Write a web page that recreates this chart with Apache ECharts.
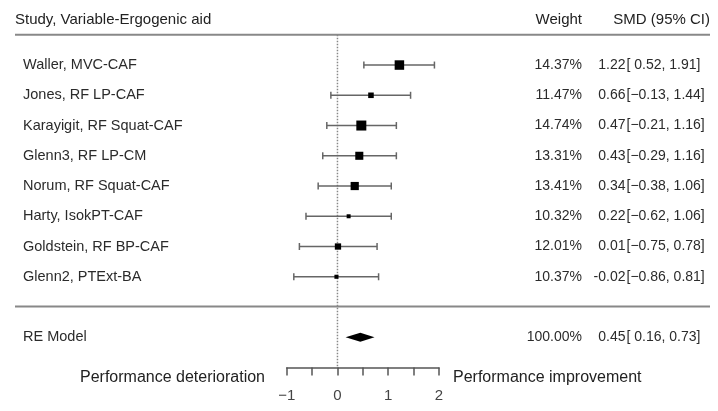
<!DOCTYPE html>
<html>
<head>
<meta charset="utf-8">
<script src="https://cdn.jsdelivr.net/npm/echarts@6/dist/echarts.min.js"></script>
<style>
  html, body { margin: 0; padding: 0; background: #fff; }
  #chart { width: 718px; height: 411px; }
</style>
</head>
<body>
<div id="chart"></div>
<script>
// study rows, top to bottom
const studies = ['Waller, MVC-CAF', 'Jones, RF LP-CAF', 'Karayigit, RF Squat-CAF', 'Glenn3, RF LP-CM',
  'Norum, RF Squat-CAF', 'Harty, IsokPT-CAF', 'Goldstein, RF BP-CAF', 'Glenn2, PTExt-BA'];
const smd = [1.22, 0.66, 0.47, 0.43, 0.34, 0.22, 0.01, -0.02];
const ciLower = [0.52, -0.13, -0.21, -0.29, -0.38, -0.62, -0.75, -0.86];
const ciUpper = [1.91, 1.44, 1.16, 1.16, 1.06, 1.06, 0.78, 0.81];
const weights = [14.37, 11.47, 14.74, 13.31, 13.41, 10.32, 12.01, 10.37];

// random effects summary
const reLabel = 'RE Model';
const reSmd = 0.45;
const reLower = 0.16;
const reUpper = 0.73;
const reWeight = 100.00;

const xMin = -1, xMax = 2;

const FONT = '"Liberation Sans", Arial, sans-serif';
const TEXT = '#2b2b2b';

function fmtLo(v) {
  return v < 0 ? '\u2212' + Math.abs(v).toFixed(2) : ' ' + v.toFixed(2);
}
function ciText(lo, hi) {
  return '[' + fmtLo(lo) + ', ' + hi.toFixed(2) + ']';
}

// rows: studies 1..8, separator at 9, RE model at 10, axis at 11
const studyRows = studies.map((s, i) => [i + 1, smd[i], ciLower[i], ciUpper[i], weights[i]]);
const reRow = 10;

const textRows = studies.map((s, i) => ({
  row: i + 1, name: s, w: weights[i].toFixed(2) + '%', est: smd[i].toFixed(2), ci: ciText(ciLower[i], ciUpper[i])
}));
textRows.push({ row: reRow, name: reLabel, w: reWeight.toFixed(2) + '%', est: reSmd.toFixed(2), ci: ciText(reLower, reUpper) });

const wMin = Math.min(...weights), wMax = Math.max(...weights);
function boxSize(w) { return 4 + (w - wMin) * 6 / (wMax - wMin); }

const chart = echarts.init(document.getElementById('chart'));

chart.setOption({
  animation: false,
  grid: { left: 286.7, width: 152.3, top: 34.8, bottom: 43.5 },
  xAxis: {
    type: 'value', min: xMin, max: xMax, interval: 0.5,
    axisLine: { show: true, onZero: false, lineStyle: { color: '#555', width: 1.5 } },
    axisTick: { show: true, length: 8, lineStyle: { color: '#555', width: 1.5 } },
    splitLine: { show: false },
    axisLabel: {
      margin: 21, color: '#444', fontSize: 15, fontFamily: FONT,
      formatter: v => Number.isInteger(v) ? String(v).replace('-', '\u2212') : ''
    }
  },
  yAxis: { type: 'value', inverse: true, min: 0, max: 11, show: false },
  graphic: [
    { type: 'text', left: 15, top: 12, style: { text: 'Study, Variable-Ergogenic aid', font: '15px ' + FONT, fill: '#222' } },
    { type: 'text', right: 136, top: 12, style: { text: 'Weight', font: '15px ' + FONT, fill: '#222' } },
    { type: 'text', right: 8, top: 12, style: { text: 'SMD (95% CI)', font: '15px ' + FONT, fill: '#222' } },
    { type: 'line', shape: { x1: 15, y1: 34.8, x2: 710, y2: 34.8 }, style: { stroke: '#888', lineWidth: 2 } },
    { type: 'line', shape: { x1: 15, y1: 306.6, x2: 710, y2: 306.6 }, style: { stroke: '#888', lineWidth: 2 } },
    { type: 'text', right: 453, top: 370, style: { text: 'Performance deterioration', font: '16px ' + FONT, fill: '#222' } },
    { type: 'text', left: 453, top: 370, style: { text: 'Performance improvement', font: '16px ' + FONT, fill: '#222' } }
  ],
  series: [
    {
      type: 'line', name: 'null', data: [[0, 0], [0, 11]], symbol: 'none', silent: true,
      lineStyle: { type: 'dotted', color: '#888', width: 1.5 }, z: 1
    },
    {
      type: 'custom', name: 'studies', data: studyRows, encode: { x: [1, 2, 3], y: 0 }, z: 3,
      renderItem: function (params, api) {
        const row = api.value(0);
        const y = api.coord([0, row])[1];
        const xe = api.coord([api.value(1), row])[0];
        const xl = api.coord([api.value(2), row])[0];
        const xh = api.coord([api.value(3), row])[0];
        const s = boxSize(api.value(4));
        const ls = { stroke: '#666', lineWidth: 1.5 };
        return {
          type: 'group', children: [
            { type: 'line', shape: { x1: xl, y1: y, x2: xh, y2: y }, style: ls },
            { type: 'line', shape: { x1: xl, y1: y - 3.5, x2: xl, y2: y + 3.5 }, style: ls },
            { type: 'line', shape: { x1: xh, y1: y - 3.5, x2: xh, y2: y + 3.5 }, style: ls },
            { type: 'rect', shape: { x: xe - s / 2, y: y - s / 2, width: s, height: s }, style: { fill: '#000' } }
          ]
        };
      }
    },
    {
      type: 'custom', name: 'pooled', data: [[reRow, reSmd, reLower, reUpper]], encode: { x: [1, 2, 3], y: 0 }, z: 3,
      renderItem: function (params, api) {
        const row = api.value(0);
        const y = api.coord([0, row])[1];
        const xe = api.coord([api.value(1), row])[0];
        const xl = api.coord([api.value(2), row])[0];
        const xh = api.coord([api.value(3), row])[0];
        return {
          type: 'polygon',
          shape: { points: [[xl, y], [xe, y - 4.5], [xh, y], [xe, y + 4.5]] },
          style: { fill: '#000' }
        };
      }
    },
    {
      type: 'custom', name: 'text', data: textRows.map(r => [0, r.row]), encode: { x: 0, y: 1 }, z: 4,
      clip: false,
      renderItem: function (params, api) {
        const r = textRows[params.dataIndex];
        const y = api.coord([0, r.row])[1];
        const font = '14px ' + FONT;
        return {
          type: 'group', children: [
            { type: 'text', style: { x: 23, y: y, text: r.name, font: '14.5px ' + FONT, fill: TEXT, verticalAlign: 'middle' } },
            { type: 'text', style: { x: 582, y: y, text: r.w, font: font, fill: TEXT, align: 'right', verticalAlign: 'middle' } },
            { type: 'text', style: { x: 625.5, y: y, text: r.est, font: font, fill: TEXT, align: 'right', verticalAlign: 'middle' } },
            { type: 'text', style: { x: 626.5, y: y, text: r.ci, font: font, fill: TEXT, align: 'left', verticalAlign: 'middle' } }
          ]
        };
      }
    }
  ]
});
</script>
</body>
</html>
